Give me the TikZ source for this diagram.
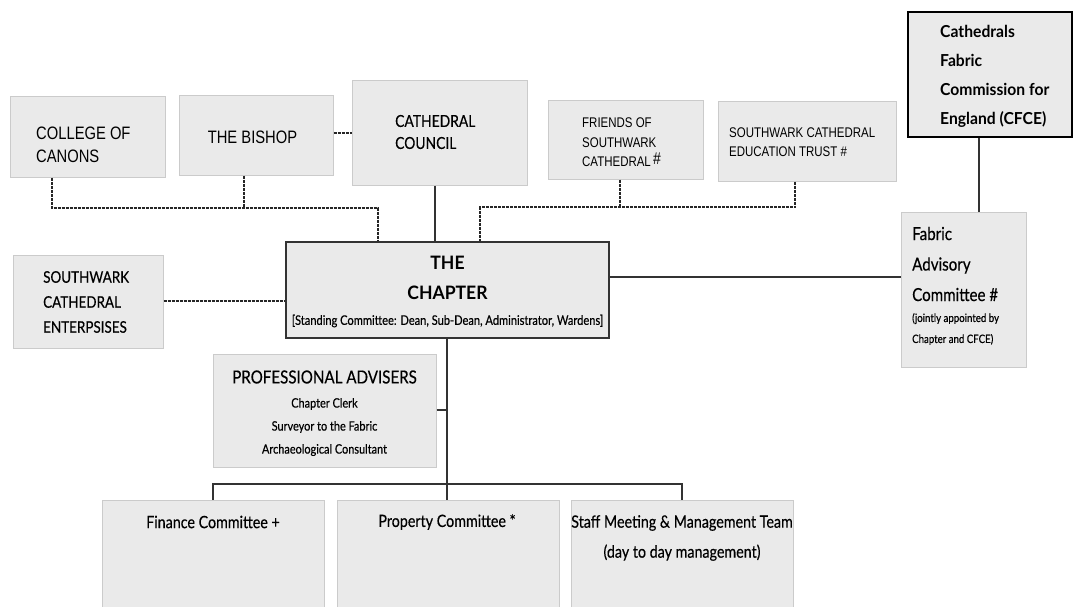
\documentclass[tikz,border=0pt]{standalone}
\usepackage{fontspec}
\setmainfont{Lato}
\newfontfamily\gill[FakeStretch=0.84,UprightFeatures={FakeBold=0.35}]{Lato}
\newfontfamily\gillb[FakeStretch=0.95]{Lato Bold}
\newfontfamily\narrow[FakeStretch=0.82]{Liberation Sans}
\definecolor{boxfill}{HTML}{EAEAEA}
\definecolor{boxline}{HTML}{CBCBCB}
\definecolor{conn}{HTML}{333333}
\newcommand{\fs}[2]{\fontsize{#1}{#2}\selectfont}
\begin{document}
\begin{tikzpicture}[x=1pt,y=-1pt,
  box/.style={rectangle,draw=boxline,fill=boxfill,line width=1pt,inner sep=0pt},
  darkbox/.style={rectangle,draw=conn,fill=boxfill,line width=1.5pt,inner sep=0pt},
  blackbox/.style={rectangle,draw=black,fill=boxfill,line width=1.5pt,inner sep=0pt},
  txt/.style={inner sep=0pt,align=left,anchor=west,text=black},
  ctxt/.style={inner sep=0pt,align=center,anchor=center,text=black},
  link/.style={draw=conn,line width=1.3pt},
  dlink/.style={draw=black!85,line width=1.1pt,dash pattern=on 3pt off 1pt}]
\useasboundingbox (0,0) rectangle (1073,607);
% boxes
\node[box,minimum width=155pt,minimum height=80pt] (canons) at (87.5,137) {};
\node[box,minimum width=154pt,minimum height=79pt] (bishop) at (256,135.5) {};
\node[box,minimum width=175pt,minimum height=104pt] (council) at (439.5,133) {};
\node[box,minimum width=155pt,minimum height=78pt] (friends) at (625.5,140) {};
\node[box,minimum width=178pt,minimum height=79pt] (edu) at (807,141.5) {};
\node[blackbox,minimum width=164pt,minimum height=125pt] (cfce) at (990,74.5) {};
\node[box,minimum width=150pt,minimum height=93pt] (ent) at (88,301.5) {};
\node[darkbox,minimum width=323pt,minimum height=96pt] (chapter) at (447.5,290) {};
\node[box,minimum width=125pt,minimum height=155pt] (fabric) at (963.5,289.5) {};
\node[box,minimum width=223pt,minimum height=113pt] (prof) at (324.5,410.5) {};
\node[box,minimum width=222pt,minimum height=120pt] (finance) at (213,560) {};
\node[box,minimum width=222pt,minimum height=120pt] (property) at (448,560) {};
\node[box,minimum width=222pt,minimum height=120pt] (staff) at (682,560) {};
% texts
\node[txt,font=\narrow\fs{18}{23}] (tcanons) at (36,144.5) {COLLEGE OF\\CANONS};
\node[ctxt,font=\narrow\fs{18}{23}] (tbishop) at (252.5,137) {THE BISHOP};
\node[txt,font=\gill\fs{16.5}{22}] (tcouncil) at (395,132) {CATHEDRAL\\COUNCIL};
\node[txt,font=\narrow\fs{14}{19.5}] (tfriends) at (582,142.5) {FRIENDS OF\\SOUTHWARK\\CATHEDRAL\,\raisebox{2pt}{\fs{17}{17}\#}};
\node[txt,font=\narrow\fs{14}{19}] (tedu) at (729,142.5) {SOUTHWARK CATHEDRAL\\EDUCATION TRUST \#};
\node[txt,font=\gillb\fs{16.5}{29}] (tcfce) at (940,76) {Cathedrals\\Fabric\\Commission for\\England (CFCE)};
\node[txt,font=\gill\fs{16}{25}] (tent) at (43,302) {SOUTHWARK\\CATHEDRAL\\ENTERPSISES};
\node[ctxt,font=\gillb\fs{18.5}{30}] (tchap) at (447.5,278) {THE\\CHAPTER};
\node[ctxt,font=\gill\fs{13.2}{15}] (tstand) at (447.5,321) {[Standing Committee: Dean, Sub-Dean, Administrator, Wardens]};
\node[txt,font=\gill\fs{18}{30.5}] (tfab1) at (912,264) {Fabric\\Advisory\\Committee \#};
\node[txt,font=\gill\fs{11.5}{21}] (tfab2) at (912,329) {(jointly appointed by\\Chapter and CFCE)};
\node[ctxt,font=\gill\fs{18}{22}] (tprof1) at (324.5,377) {PROFESSIONAL ADVISERS};
\node[ctxt,font=\gill\fs{13}{23}] (tprof2) at (324.5,427) {Chapter Clerk\\Surveyor to the Fabric\\Archaeological Consultant};
\node[ctxt,font=\gill\fs{17}{22}] (tfin) at (213,522) {Finance Committee +};
\node[ctxt,font=\gill\fs{17}{22}] (tprop) at (447,522) {Property Committee *};
\node[ctxt,font=\gill\fs{17}{30}] (tstaff) at (682,538) {Staff Meeting \& Management Team\\(day to day management)};
% helper coordinates
\coordinate (xcan) at (52,0);
\coordinate (xbis) at (244,0);
\coordinate (xl) at (378,0);
\coordinate (xc) at (435,0);
\coordinate (xr) at (480,0);
\coordinate (xfr) at (620,0);
\coordinate (xed) at (795,0);
\coordinate (xf) at (979,0);
\coordinate (xm) at (447,0);
\coordinate (ytop) at (0,208);
\coordinate (ytop2) at (0,207);
\coordinate (ybus) at (0,484);
\coordinate (yfab) at (0,277);
\coordinate (yent) at (0,301);
\coordinate (ybish) at (0,133);
\coordinate (yprof) at (0,410);
% dashed connectors, left group
\draw[dlink] (xcan |- canons.south) -- (xcan |- ytop) -- (xl |- ytop) -- (xl |- chapter.north);
\draw[dlink] (xbis |- bishop.south) -- (xbis |- ytop);
% dashed connectors, right group
\draw[dlink] (xed |- edu.south) -- (xed |- ytop2) -- (xr |- ytop2) -- (xr |- chapter.north);
\draw[dlink] (xfr |- friends.south) -- (xfr |- ytop2);
% other dashed
\draw[dlink] (bishop.east |- ybish) -- (council.west |- ybish);
\draw[dlink] (ent.east |- yent) -- (chapter.west |- yent);
% solid connectors
\draw[link] (xc |- council.south) -- (xc |- chapter.north);
\draw[link] (chapter.east |- yfab) -- (fabric.west |- yfab);
\draw[link] (xf |- cfce.south) -- (xf |- fabric.north);
\draw[link] (xm |- chapter.south) -- (xm |- property.north);
\draw[link] (prof.east |- yprof) -- (xm |- yprof);
\draw[link] (finance.north) -- (finance.north |- ybus) -- (staff.north |- ybus) -- (staff.north);
\end{tikzpicture}
\end{document}
